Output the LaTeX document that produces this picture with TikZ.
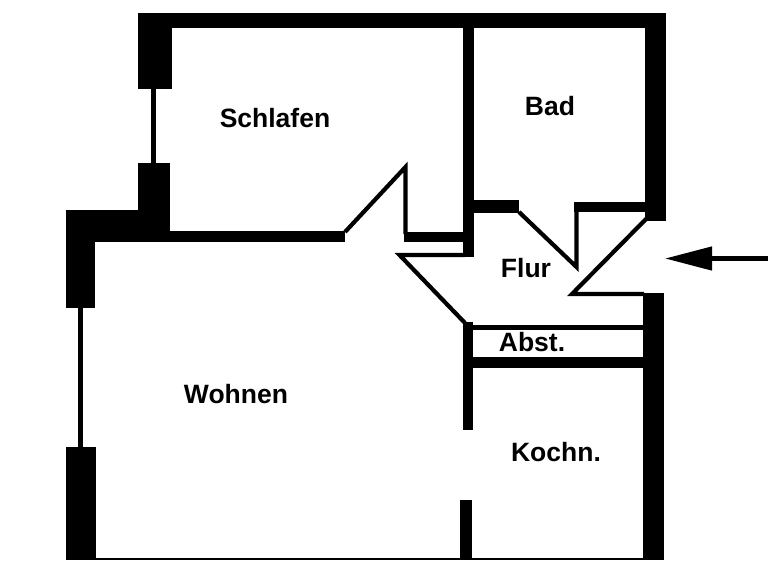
\documentclass[tikz,border=0pt]{standalone}
\usepackage{fontspec}
\setmainfont{Liberation Sans}
\usepackage{tikz}
\usetikzlibrary{arrows.meta}
\tikzset{
    wall/.style={fill=black},
    thinwall/.style={draw=black, line width=4.2pt, line cap=butt, line join=miter},
    roomlabel/.style={font=\fontsize{26.5}{26.5}\bfseries\selectfont},
}

\begin{document}
\begin{tikzpicture}[x=1pt, y=-1pt]
    \useasboundingbox (0, 0) rectangle (768, 560);
    % outer walls
    \fill[wall] (138, 13) rectangle (666, 28);
    \fill[wall] (138, 13) rectangle (172, 89);
    \fill[wall] (138, 163) rectangle (170, 242);
    \fill[wall] (65.5, 210) rectangle (138, 242);
    \fill[wall] (65.5, 210) rectangle (94.5, 308);
    \fill[wall] (65.5, 447) rectangle (95.5, 560);
    \fill[wall] (645, 13) rectangle (666, 221);
    \fill[wall] (642.5, 293) rectangle (664, 560);
    \fill[wall] (95, 557.5) rectangle (643, 560);
    % inner walls
    \fill[wall] (170, 231) rectangle (345, 242);
    \fill[wall] (463, 28) rectangle (473.5, 257);
    \fill[wall] (473, 200) rectangle (519, 213);
    \fill[wall] (574, 202) rectangle (645, 212);
    \fill[wall] (404, 232) rectangle (463, 242);
    \fill[wall] (462.5, 322) rectangle (473, 430);
    \fill[wall] (460, 500) rectangle (471.5, 560);
    \fill[wall] (473, 357) rectangle (643, 368);
    % windows
    \draw[thinwall] (153.5, 89) -- (153.5, 163);
    \draw[thinwall] (80.5, 308) -- (80.5, 447);
    % doors and thin walls
    \draw[thinwall] (345, 232) -- (405.5, 167) -- (405.5, 234);
    \draw[thinwall] (465, 255) -- (399.5, 255) -- (465, 323);
    \draw[thinwall] (519, 212) -- (576.5, 267) -- (576.5, 204);
    \draw[thinwall] (647, 218) -- (572, 294) -- (644, 294);
    \draw[thinwall] (473, 327.5) -- (643, 327.5);
    % rooms
    \node[roomlabel] (schlafen) at (275, 118) {Schlafen};
    \node[roomlabel] (bad) at (550, 106) {Bad};
    \node[roomlabel] (flur) at (526, 268) {Flur};
    \node[roomlabel] (abst) at (532, 342) {Abst.};
    \node[roomlabel] (wohnen) at (236, 394) {Wohnen};
    \node[roomlabel] (kochn) at (556, 452) {Kochn.};
    % entrance
    \coordinate (outside) at (768, 258.5);
    \coordinate (entrance) at (665, 258.5);
    \draw[line width=4.5pt, -{Triangle[length=47pt, width=23pt]}] (outside) -- (entrance);
\end{tikzpicture}
\end{document}
